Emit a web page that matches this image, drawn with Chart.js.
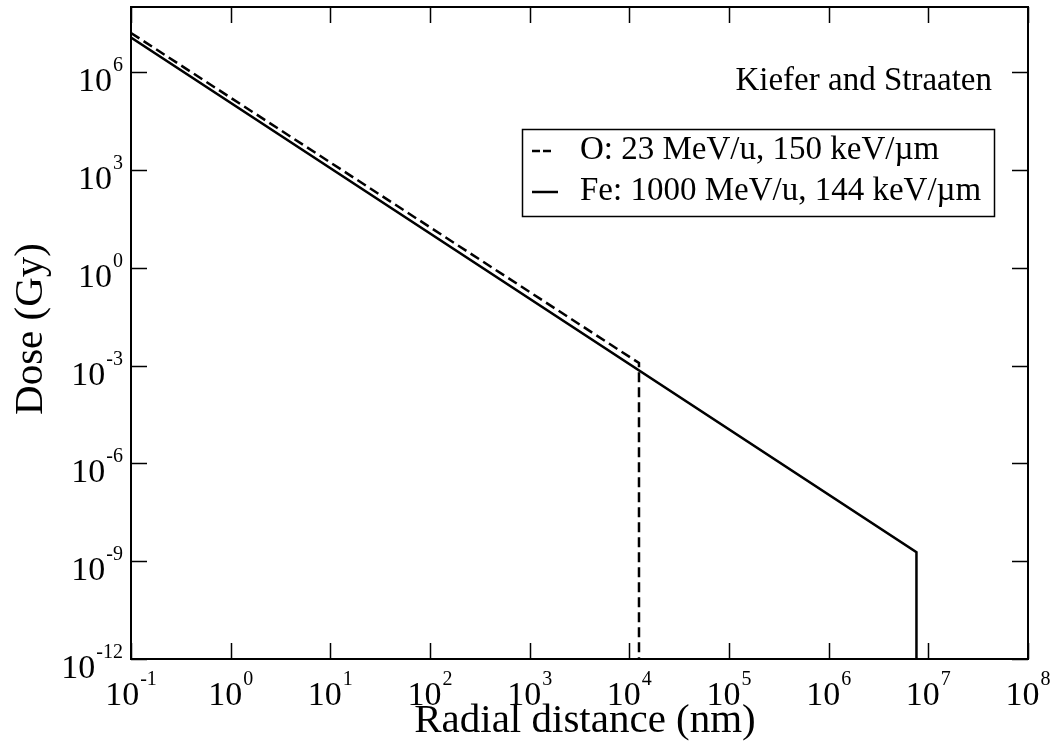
<!DOCTYPE html>
<html>
<head>
<meta charset="utf-8">
<script src="https://cdn.jsdelivr.net/npm/chart.js@4/dist/chart.umd.min.js"></script>
<style>
  html, body { margin: 0; padding: 0; background: #fff; }
  #wrap { width: 1054px; height: 748px; }
</style>
</head>
<body>
<div id="wrap"><canvas id="doseChart" width="1054" height="748"></canvas></div>
<script>
// Radial dose profiles (nm, Gy)
const oRadius = [0.1, 1.25e4, 1.25e4];
const oDose = [1.6e7, 1.2e-3, 1e-12];
const feRadius = [0.1, 7.6e6, 7.6e6];
const feDose = [1.15e7, 1.9e-9, 1e-12];

const seriesLabels = ['O: 23 MeV/u, 150 keV/\u00b5m', 'Fe: 1000 MeV/u, 144 keV/\u00b5m'];

// decade exponents that get a tick mark and a 10^n label
const xTickExponents = [-1, 0, 1, 2, 3, 4, 5, 6, 7, 8];
const yTickExponents = [-12, -9, -6, -3, 0, 3, 6];

const serif = '"Liberation Serif", "Times New Roman", serif';

const toPoints = (xs, ys) => xs.map((x, i) => ({ x: x, y: ys[i] }));

// draws "10" with a raised exponent
function drawPower(ctx, exp, x, baseY, align) {
    const base = '10';
    const sup = String(exp);
    ctx.font = '34px ' + serif;
    const wb = ctx.measureText(base).width;
    ctx.font = '20px ' + serif;
    const ws = ctx.measureText(sup).width;
    const total = wb + ws + 1;
    const left = align === 'center' ? x - total / 2 : x - total;
    ctx.textAlign = 'left';
    ctx.textBaseline = 'alphabetic';
    ctx.font = '34px ' + serif;
    ctx.fillText(base, left, baseY);
    ctx.font = '20px ' + serif;
    ctx.fillText(sup, left + wb + 1, baseY - 20);
}

const framePlugin = {
    id: 'frame',
    afterDatasetsDraw(chart) {
        const ctx = chart.ctx;
        const a = chart.chartArea;
        const xs = chart.scales.x;
        const ys = chart.scales.y;
        const tickLen = 16;
        ctx.save();
        ctx.strokeStyle = '#000';
        ctx.fillStyle = '#000';

        // plot frame
        ctx.lineWidth = 2;
        ctx.strokeRect(a.left, a.top, a.right - a.left, a.bottom - a.top);

        // inward ticks on all four sides
        ctx.lineWidth = 1.5;
        ctx.beginPath();
        xs.ticks.forEach(t => {
            const px = Math.round(xs.getPixelForValue(t.value)) + 0.5;
            ctx.moveTo(px, a.bottom); ctx.lineTo(px, a.bottom - tickLen);
            ctx.moveTo(px, a.top); ctx.lineTo(px, a.top + tickLen);
        });
        ys.ticks.forEach(t => {
            const py = Math.round(ys.getPixelForValue(t.value)) + 0.5;
            ctx.moveTo(a.left, py); ctx.lineTo(a.left + tickLen, py);
            ctx.moveTo(a.right, py); ctx.lineTo(a.right - tickLen, py);
        });
        ctx.stroke();

        // tick labels
        xs.ticks.forEach(t => {
            const px = xs.getPixelForValue(t.value);
            drawPower(ctx, Math.round(Math.log10(t.value)), px, a.bottom + 46, 'center');
        });
        ys.ticks.forEach(t => {
            const py = ys.getPixelForValue(t.value);
            drawPower(ctx, Math.round(Math.log10(t.value)), a.left - 8, py + 19, 'right');
        });

        // axis titles
        ctx.font = '41px ' + serif;
        ctx.textAlign = 'center';
        ctx.textBaseline = 'alphabetic';
        ctx.fillText('Radial distance (nm)', 585, 732);
        ctx.save();
        ctx.translate(42, 329);
        ctx.rotate(-Math.PI / 2);
        ctx.fillText('Dose (Gy)', 0, 0);
        ctx.restore();

        // annotation
        ctx.font = '33px ' + serif;
        ctx.textAlign = 'right';
        ctx.fillText('Kiefer and Straaten', 992, 90);

        // legend box
        ctx.fillStyle = '#fff';
        ctx.fillRect(522, 129, 472, 87);
        ctx.lineWidth = 1.5;
        ctx.strokeRect(522.5, 129.5, 472, 87);
        ctx.fillStyle = '#000';
        ctx.textAlign = 'left';
        const rows = [{ base: 159, line: 151 }, { base: 200, line: 192 }];
        chart.data.datasets.forEach((ds, i) => {
            const dashed = !!ds.borderDash;
            ctx.lineWidth = 2.5;
            ctx.setLineDash(dashed ? [8, 3] : []);
            ctx.beginPath();
            ctx.moveTo(532, rows[i].line);
            ctx.lineTo(dashed ? 551 : 558, rows[i].line);
            ctx.stroke();
            ctx.setLineDash([]);
            ctx.fillText(ds.label, 580, rows[i].base);
        });
        ctx.restore();
    }
};

const ctx = document.getElementById('doseChart').getContext('2d');
new Chart(ctx, {
    type: 'line',
    data: {
        datasets: [{
            label: seriesLabels[0],
            data: toPoints(oRadius, oDose),
            borderColor: '#000',
            borderWidth: 2.5,
            borderDash: [10, 5],
            pointRadius: 0,
            fill: false
        }, {
            label: seriesLabels[1],
            data: toPoints(feRadius, feDose),
            borderColor: '#000',
            borderWidth: 2.5,
            pointRadius: 0,
            fill: false
        }]
    },
    options: {
        responsive: false,
        animation: false,
        devicePixelRatio: 1,
        layout: { padding: { left: 131, top: 7, right: 26, bottom: 89 } },
        plugins: { legend: { display: false }, tooltip: { enabled: false } },
        scales: {
            x: {
                type: 'logarithmic',
                display: false,
                min: 1e-1,
                max: 1e8,
                afterBuildTicks: (scale) => {
                    scale.ticks = xTickExponents.map(e => ({ value: Math.pow(10, e) }));
                }
            },
            y: {
                type: 'logarithmic',
                display: false,
                min: 1e-12,
                max: 1e8,
                afterBuildTicks: (scale) => {
                    scale.ticks = yTickExponents.map(e => ({ value: Math.pow(10, e) }));
                }
            }
        }
    },
    plugins: [framePlugin]
});
</script>
</body>
</html>
